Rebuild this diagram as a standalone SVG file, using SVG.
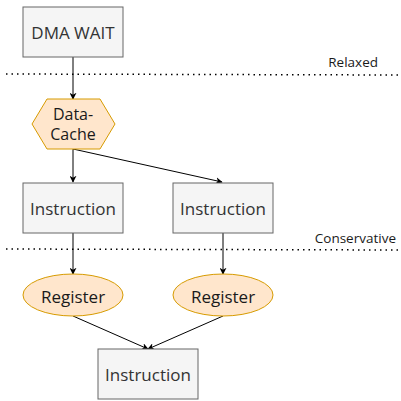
<svg xmlns="http://www.w3.org/2000/svg" width="401" height="401" viewBox="0 0 401 401">
<style>
.box{fill:#f5f5f5;stroke:#666666;stroke-width:1}
.org{fill:#ffe6cc;stroke:#d79b00;stroke-width:1}
.t{font-family:"Open Sans","Noto Sans",sans-serif;font-size:17px;text-anchor:middle;dominant-baseline:central}
.s{font-size:16px}
.g{fill:#333333}
.k{fill:#1a1a1a}
.lbl{font-family:"Open Sans","Noto Sans",sans-serif;font-size:13.5px;fill:#1a1a1a;text-anchor:end}
.dot{stroke:#000;stroke-width:1.5;stroke-dasharray:1.5 4;fill:none}
.e{stroke:#000;stroke-width:1;fill:none;marker-end:url(#a)}
</style>
<defs>
<marker id="a" viewBox="0 0 10 10" refX="9" refY="5" markerWidth="7" markerHeight="7" orient="auto" markerUnits="userSpaceOnUse">
<path d="M0,0 L10,5 L0,10 L3,5 z" fill="#000"/>
</marker>
</defs>
<g id="separators">
<line class="dot" x1="6" y1="74" x2="401" y2="75"/>
<line class="dot" x1="6" y1="249" x2="401" y2="250"/>
<text class="lbl" x="378" y="67">Relaxed</text>
<text class="lbl" x="396" y="243">Conservative</text>
</g>
<g id="connectors">
<line class="e" x1="73" y1="57" x2="73" y2="99"/>
<line class="e" x1="73" y1="149" x2="73" y2="182"/>
<line class="e" x1="73" y1="149" x2="222" y2="182"/>
<line class="e" x1="73" y1="233" x2="73" y2="274"/>
<line class="e" x1="223" y1="233" x2="223" y2="274"/>
<line class="e" x1="73" y1="316" x2="148" y2="349"/>
<line class="e" x1="223" y1="316" x2="148" y2="349"/>
</g>
<g id="dma">
<rect class="box" x="23" y="7" width="100" height="50"/>
<text class="t g" x="73" y="32">DMA WAIT</text>
</g>
<g id="datacache">
<polygon class="org" points="32,124 47,99 100,99 115,124 100,149 47,149"/>
<text class="t s k" x="73" y="114">Data-</text>
<text class="t s k" x="73" y="134">Cache</text>
</g>
<g id="instr1">
<rect class="box" x="23" y="183" width="100" height="50"/>
<text class="t g" x="73" y="208">Instruction</text>
</g>
<g id="instr2">
<rect class="box" x="173" y="183" width="100" height="50"/>
<text class="t g" x="223" y="208">Instruction</text>
</g>
<g id="reg1">
<ellipse class="org" cx="73" cy="295" rx="50" ry="21"/>
<text class="t k" x="73" y="296">Register</text>
</g>
<g id="reg2">
<ellipse class="org" cx="223" cy="295" rx="50" ry="21"/>
<text class="t k" x="223" y="296">Register</text>
</g>
<g id="instr3">
<rect class="box" x="98" y="349" width="100" height="50"/>
<text class="t g" x="148" y="374">Instruction</text>
</g>
</svg>
